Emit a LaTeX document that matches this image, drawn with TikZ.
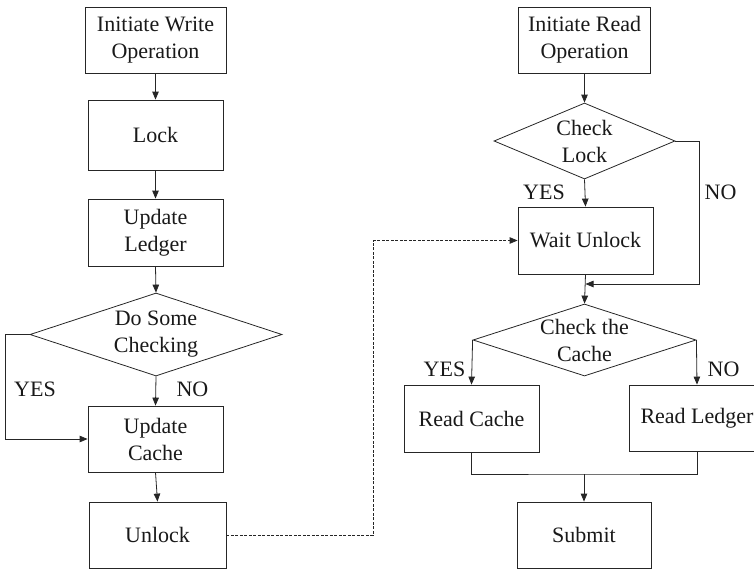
\documentclass[tikz,border=0pt]{standalone}
\usepackage{fontspec}
\setmainfont{Liberation Serif}
\newfontfamily\tnrfont{Liberation Serif}
\usetikzlibrary{shapes.geometric,arrows.meta}
\tikzset{
  fnt/.style={font=\tnrfont\fontsize{22}{27}\selectfont, text=black!90},
  box/.style={fnt, draw=black!85, line width=0.8pt, rectangle, inner sep=0pt, align=center},
  dia/.style={draw=black!85, line width=0.8pt, diamond, inner sep=0pt},
  dtext/.style={fnt, align=center, inner sep=0pt},
  lab/.style={fnt, inner sep=0pt},
  conn/.style={draw=black!85, line width=0.8pt},
  arr/.style={conn, -{Triangle[length=8pt,width=6.5pt]}},
  dsh/.style={arr, dash pattern=on 3pt off 1.5pt}
}
\begin{document}
\begin{tikzpicture}[x=1pt,y=-1pt]
\useasboundingbox (0,0) rectangle (754,570);

% left column
\node[box, minimum width=141, minimum height=66] (iw) at (155.5,40) {Initiate Write\\Operation};
\node[box, minimum width=135, minimum height=70] (lock) at (155.5,135) {Lock};
\node[box, minimum width=135, minimum height=67] (ledger) at (155.5,232.5) {Update\\Ledger};
\node[dia, minimum width=252, minimum height=83] (dsc) at (156,334.5) {};
\node[dtext] (dsct) at (156,334.5) {Do Some\\Checking};
\node[box, minimum width=135, minimum height=66] (ucache) at (155.5,439) {Update\\Cache};
\node[box, minimum width=137, minimum height=66] (unlock) at (157.5,535) {Unlock};
\node[lab] (yes1) at (35,389) {YES};
\node[lab] (no1) at (192.5,389) {NO};

% right column
\node[box, minimum width=132, minimum height=66] (ir) at (584.5,40) {Initiate Read\\Operation};
\node[dia, minimum width=181, minimum height=76] (cl) at (584.5,141) {};
\node[dtext] (clt) at (584.5,141) {Check\\Lock};
\node[box, minimum width=135, minimum height=67] (wu) at (585.5,240.5) {Wait Unlock};
\node[dia, minimum width=223, minimum height=72] (ctc) at (584.5,340) {};
\node[dtext] (ctct) at (584.5,340) {Check the\\Cache};
\node[box, minimum width=135, minimum height=67] (rc) at (471.5,418.5) {Read Cache};
\node[box, minimum width=136, minimum height=66] (rl) at (697,418) {Read Ledger};
\node[box, minimum width=134, minimum height=66] (submit) at (584,535) {Submit};
\node[lab] (yes2) at (544,192) {YES};
\node[lab] (no2) at (720.5,192) {NO};
\node[lab] (yes3) at (444.5,369) {YES};
\node[lab] (no3) at (723.5,369) {NO};

\coordinate (mj) at (585.5,284);
\coordinate (sj) at (584,474);

% left connectors
\draw[arr] (iw.south) -- (lock.north);
\draw[arr] (lock.south) -- (ledger.north);
\draw[arr] (ledger.south) -- (dsc.north);
\draw[arr] (dsc.south) -- (ucache.north);
\draw[arr] (dsc.west) -- ++(-24,0) |- (ucache.west);
\draw[arr] (ucache.south) -- (unlock.north);
\draw[dsh] (unlock.east) -- ++(147,0) |- (wu.west);

% right connectors
\draw[arr] (ir.south) -- (cl.north);
\draw[arr] (cl.south) -- (wu.north);
\draw[arr] (cl.east) -- ++(24,0) |- (mj);
\draw[arr] (wu.south) -- (ctc.north);
\draw[arr] (ctc.west) -- (rc.north);
\draw[arr] (ctc.east) -- (rl.north);
\draw[conn] (rc.south) |- (sj) -| (rl.south);
\draw[arr] (sj) -- (submit.north);
\end{tikzpicture}
\end{document}
